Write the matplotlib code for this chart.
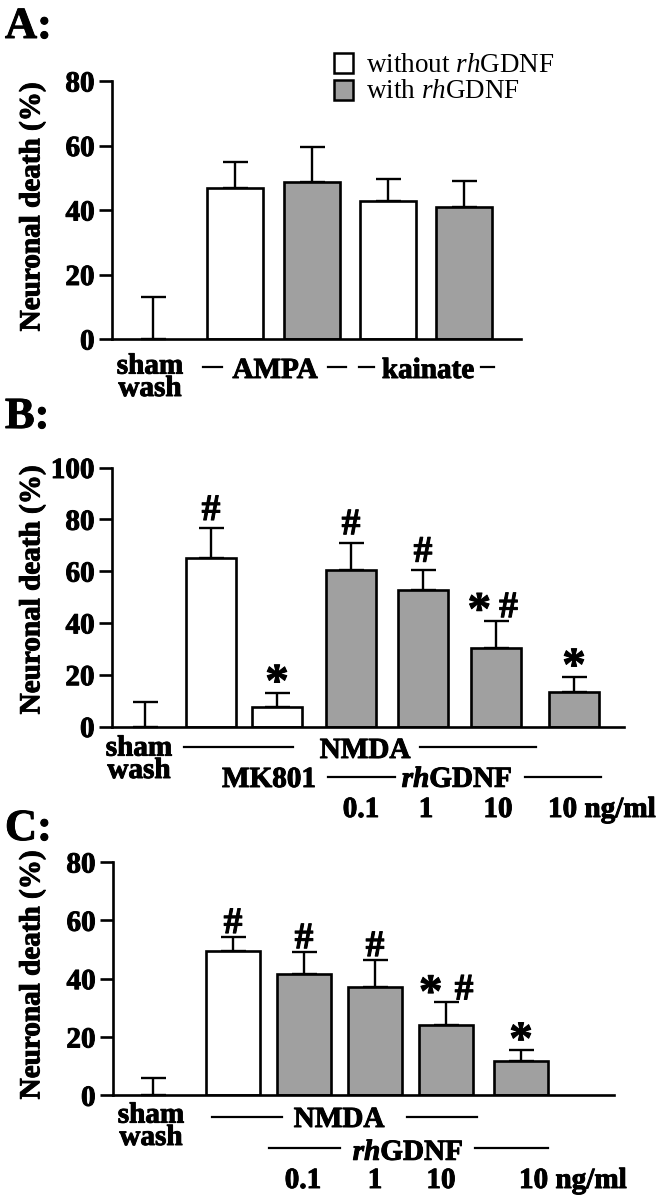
import matplotlib
matplotlib.use('Agg')
import matplotlib.pyplot as plt
import matplotlib.patheffects as pe
from matplotlib.lines import Line2D
from matplotlib.patches import Rectangle

plt.rcParams['font.family'] = ['Liberation Serif', 'DejaVu Serif']
plt.rcParams['font.weight'] = 'bold'
plt.rcParams['mathtext.fontset'] = 'custom'
plt.rcParams['mathtext.rm'] = 'Liberation Serif'
plt.rcParams['mathtext.it'] = 'Liberation Serif:italic:normal'
plt.rcParams['mathtext.bf'] = 'Liberation Serif:italic:bold'

# ---------------- data ----------------
# Panel A
a_groups = ["sham wash", "AMPA", "AMPA + rhGDNF", "kainate", "kainate + rhGDNF"]
a_values = [0, 46.7, 48.7, 42.7, 40.8]
a_errors = [13.0, 8.1, 10.7, 7.0, 8.3]
a_gdnf = [False, False, True, False, True]
a_yticks = [0, 20, 40, 60, 80]

# Panel B
b_groups = ["sham wash", "NMDA", "NMDA + MK801", "NMDA + rhGDNF 0.1",
            "NMDA + rhGDNF 1", "NMDA + rhGDNF 10", "rhGDNF 10"]
b_values = [0, 65.0, 7.4, 60.6, 52.6, 30.3, 13.3]
b_errors = [9.5, 11.5, 5.5, 10.4, 7.8, 10.3, 5.8]
b_gdnf = [False, False, False, True, True, True, True]
b_marks = ["", "#", "*", "#", "#", "*#", "*"]
b_yticks = [0, 20, 40, 60, 80, 100]

# Panel C
c_groups = ["sham wash", "NMDA", "NMDA + rhGDNF 0.1", "NMDA + rhGDNF 1",
            "NMDA + rhGDNF 10", "rhGDNF 10"]
c_values = [0, 49.5, 41.6, 37.2, 24.2, 11.6]
c_errors = [5.8, 4.7, 7.4, 9.1, 7.7, 4.1]
c_gdnf = [False, False, True, True, True, True]
c_marks = ["", "#", "#", "#", "*#", "*"]
c_yticks = [0, 20, 40, 60, 80]

dose_labels = ["0.1", "1", "10", "10 ng/ml"]

# ---------------- layout (pixel based) ----------------
W, H = 658, 1199
fig = plt.figure(figsize=(W / 100, H / 100), dpi=100)
GRAY = '#a0a0a0'
FS = 21
HEAVY = [pe.withStroke(linewidth=0.7, foreground='black')]


def fx(px):
    return px / W


def fy(py):
    return 1 - py / H


def ftext(x, y, s, ha='center', va='baseline', size=FS, heavy=True, **kw):
    t = fig.text(fx(x), fy(y), s, ha=ha, va=va, fontsize=size, **kw)
    if heavy:
        t.set_path_effects(HEAVY)
    return t


def fline(x0, x1, y, lw=1.6):
    fig.add_artist(Line2D([fx(x0), fx(x1)], [fy(y), fy(y)],
                          transform=fig.transFigure, color='k', lw=lw))


def mark(ax, x, y, s, dx, dy, size):
    t = ax.annotate(s, (x, y), xytext=(dx, dy), textcoords='offset points',
                    ha='center', va='baseline', fontsize=size,
                    fontweight='bold', annotation_clip=False)
    t.set_path_effects(HEAVY)


def panel(left, right, top, bottom, ymax, yticks, xpos, width, values,
          errors, gdnf, marks=None, hash_off=6, star_off=-2, pair_dx=(-10, 9),
          pair_off=3):
    ax = fig.add_axes([fx(left), fy(bottom), (right - left) / W,
                       (bottom - top) / H])
    ax.set_xlim(left, right)
    ax.set_ylim(0, ymax)
    for s in ('top', 'right'):
        ax.spines[s].set_visible(False)
    for s in ('left', 'bottom'):
        ax.spines[s].set_linewidth(1.9)
    ax.set_xticks([])
    ax.set_yticks(yticks)
    ax.tick_params(axis='y', direction='out', length=9.5, width=1.9,
                   labelsize=FS, pad=3)
    for lab in ax.get_yticklabels():
        lab.set_fontweight('bold')
        lab.set_path_effects(HEAVY)
    colors = [GRAY if g else 'white' for g in gdnf]
    ax.errorbar(xpos, values, yerr=[[0] * len(values), errors], fmt='none',
                ecolor='k', elinewidth=1.7, capsize=9, capthick=1.7,
                zorder=1, clip_on=False)
    for i in range(len(values)):
        if values[i] > 0:
            ax.bar(xpos[i], values[i], width, color=colors[i],
                   edgecolor='k', linewidth=1.9, zorder=2)
    if marks:
        for x, v, e, m in zip(xpos, values, errors, marks):
            top_y = v + e
            if m == '#':
                mark(ax, x, top_y, '#', 0, hash_off, 27)
            elif m == '*':
                mark(ax, x, top_y, '*', 0, star_off, 34)
            elif m == '*#':
                mark(ax, x, top_y, '*', pair_dx[0], pair_off - 5, 34)
                mark(ax, x, top_y, '#', pair_dx[1], pair_off, 27)
    return ax


# ---------- Panel A ----------
ftext(5, 38, "A:", ha='left', size=32)
panel(112, 521, 81, 339, 80, a_yticks, [153, 235, 312, 388, 464], 56,
      a_values, a_errors, a_gdnf)
ftext(32, 207, "Neuronal death (%)", rotation=90, va='center')
# legend
fig.add_artist(Rectangle((fx(334), fy(73)), 19 / W, 20 / H,
                         transform=fig.transFigure, facecolor='white',
                         edgecolor='k', lw=1.8))
fig.add_artist(Rectangle((fx(334), fy(100)), 19 / W, 20 / H,
                         transform=fig.transFigure, facecolor=GRAY,
                         edgecolor='k', lw=1.8))
ftext(366, 72, r"without $\mathit{rh}$GDNF", ha='left', size=19.5,
      heavy=False, fontweight='normal')
ftext(366, 98, r"with $\mathit{rh}$GDNF", ha='left', size=19.5,
      heavy=False, fontweight='normal')
ftext(150, 396, "sham\nwash", linespacing=0.78)
fline(203, 222, 367)
ftext(275, 378, "AMPA")
fline(328, 346, 367)
fline(359, 374, 367)
ftext(428, 378, "kainate")
fline(481, 494, 367)

# ---------- Panel B ----------
ftext(5, 428, "B:", ha='left', size=32)
b_x = [145, 211, 277, 351, 423, 496, 574]
panel(112, 624, 467.5, 726.5, 100, b_yticks, b_x, 50, b_values, b_errors,
      b_gdnf, b_marks, hash_off=6, star_off=-2, pair_dx=(-12, 9), pair_off=3)
ftext(32, 590, "Neuronal death (%)", rotation=90, va='center')
ftext(139, 778, "sham\nwash", linespacing=0.78)
fline(184, 293, 747)
ftext(365, 758, "NMDA")
fline(420, 536, 747)
ftext(269, 787, "MK801")
fline(328, 395, 777)
ftext(457, 787, r"$\mathbf{rh}$GDNF")
fline(525, 601, 777)
ftext(361, 817, dose_labels[0])
ftext(426, 817, dose_labels[1])
ftext(498, 817, dose_labels[2])
ftext(548, 817, dose_labels[3], ha='left')

# ---------- Panel C ----------
ftext(5, 840, "C:", ha='left', size=32)
c_x = [153, 233, 304, 375, 446, 521]
panel(113, 614, 862, 1095.3, 80, c_yticks, c_x, 54, c_values, c_errors,
      c_gdnf, c_marks, hash_off=3, star_off=-3, pair_dx=(-11, 13), pair_off=2)
ftext(32, 975, "Neuronal death (%)", rotation=90, va='center')
ftext(151, 1145, "sham\nwash", linespacing=0.78)
fline(212, 282, 1117)
ftext(339, 1127, "NMDA")
fline(407, 477, 1117)
fline(269, 340, 1148)
ftext(408, 1160, r"$\mathbf{rh}$GDNF")
fline(475, 548, 1148)
ftext(303, 1188, dose_labels[0])
ftext(375, 1188, dose_labels[1])
ftext(441, 1188, dose_labels[2])
ftext(519, 1188, dose_labels[3], ha='left')

fig.savefig('out.png', dpi=100)
